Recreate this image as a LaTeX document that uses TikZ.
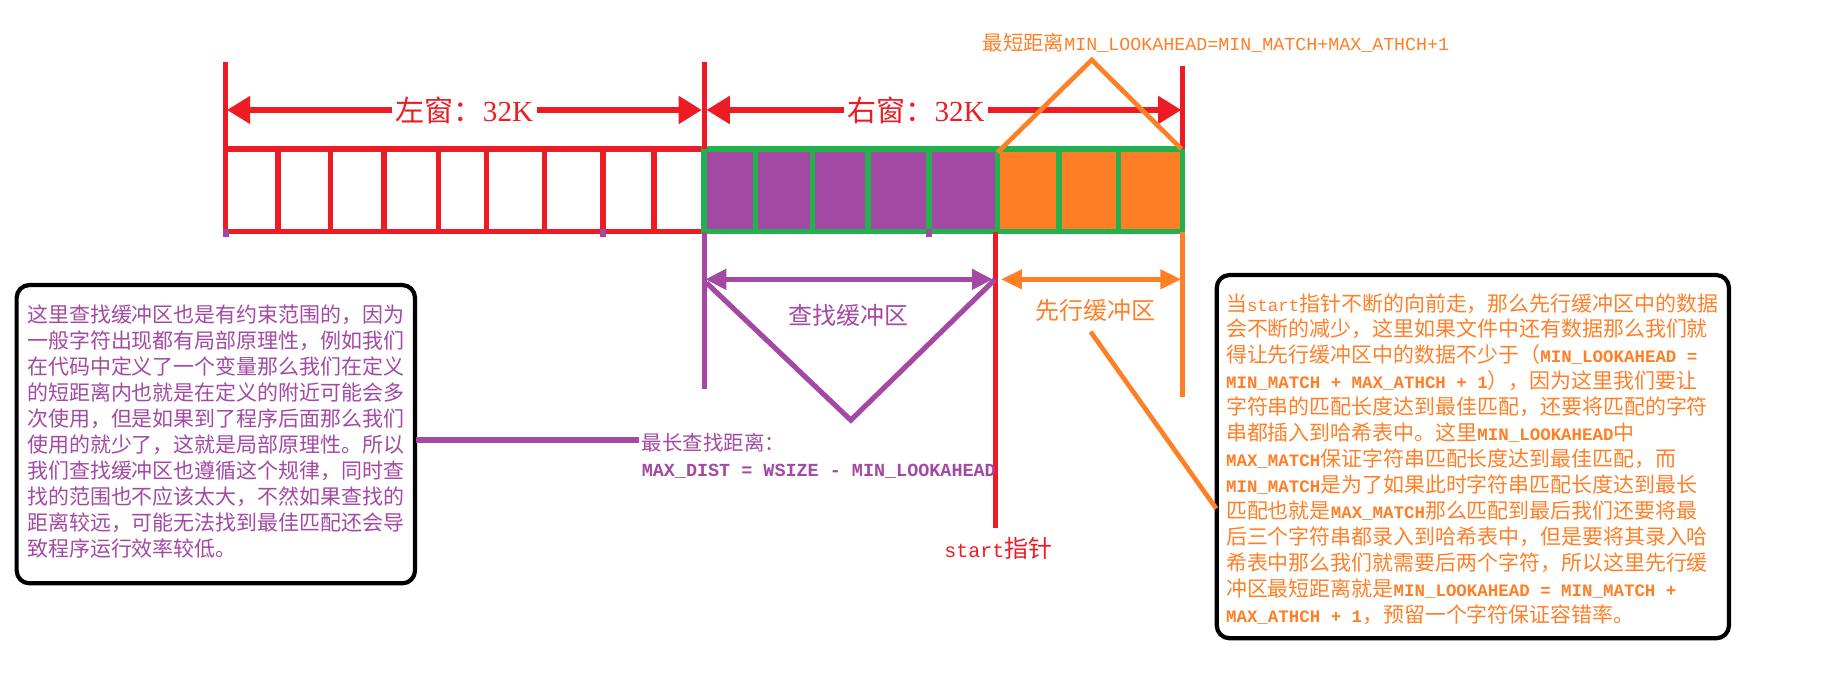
\documentclass[tikz,border=0pt]{standalone}
\usepackage{fontspec}
\setmainfont{Noto Sans CJK SC}
\newfontfamily\lmono[Scale=0.833]{Liberation Mono}
\newfontfamily\lmonow[Scale=0.9]{Liberation Mono}
\newfontfamily\lserif{Liberation Serif}
\newcommand\lm[1]{{\lmono #1}}
\newcommand\lw[1]{{\lmonow #1}}
\newcommand\lb[1]{{\lmono\bfseries #1}}
\usetikzlibrary{arrows.meta}
\definecolor{cred}{HTML}{ED1C24}
\definecolor{cgreen}{HTML}{22B14C}
\definecolor{cpurple}{HTML}{A349A4}
\definecolor{corange}{HTML}{FF7F27}
\tikzset{
  redline/.style={draw=cred, line width=2.3pt},
  greenline/.style={draw=cgreen, line width=2.4pt},
  purpleline/.style={draw=cpurple, line width=2.2pt},
  orangeline/.style={draw=corange, line width=2pt},
  redtick/.style={draw=cred, line width=2.2pt},
  redarr/.style={draw=cred, line width=2.8pt, {Triangle[length=10pt,width=11.5pt]}-{Triangle[length=10pt,width=11.5pt]}},
  purplearr/.style={draw=cpurple, line width=2.3pt, {Triangle[length=9pt,width=8.5pt]}-{Triangle[length=9pt,width=8.5pt]}},
  orangearr/.style={draw=corange, line width=2.1pt, {Triangle[length=9pt,width=8pt]}-{Triangle[length=9pt,width=8pt]}},
  notebox/.style={draw=black, line width=1.8pt, rounded corners=5.5pt},
  bigred/.style={text=cred, fill=white, inner sep=1.5pt, font=\fontsize{12.5pt}{14pt}\selectfont},
  boxtext/.style={anchor=north west, inner sep=0pt, align=left, font=\fontsize{9pt}{11.15pt}\selectfont},
  smalltext/.style={inner sep=0pt, font=\fontsize{8.75pt}{11.5pt}\selectfont},
  midtext/.style={inner sep=0pt, font=\fontsize{10.3pt}{12pt}\selectfont},
}
\begin{document}
\begin{tikzpicture}[x=0.5pt,y=-0.5pt]
\useasboundingbox (0,0) rectangle (1568,581);
\fill[white] (0,0) rectangle (1568,581);

% ---- buffer cells ----
\fill[cpurple] (605,128) rectangle (857,199);
\fill[corange] (857,128) rectangle (1016,199);
\draw[redline] (194,128) rectangle (605,199);
\foreach \x in {239,284,330,377,418,468,518,562}
  \draw[redline] (\x,128) -- (\x,199);
\draw[greenline] (605,128) rectangle (1016,199);
\foreach \x in {649,698,746,798,857,910,961}
  \draw[greenline] (\x,128) -- (\x,199);
% small marks below the cells
\foreach \x in {194,518,798}
  \draw[cpurple, line width=2.4pt] (\x,197) -- (\x,204);

% ---- window brackets ----
\coordinate (tL) at (194,53);
\coordinate (tM) at (605,53);
\coordinate (tR) at (1016,57);
\coordinate (bL) at (194,128);
\coordinate (bM) at (605,128);
\coordinate (bR) at (1016,128);
\draw[redtick] (tL) -- (bL);
\draw[redtick] (tM) -- (bM);
\draw[redtick] (tR) -- (bR);
\coordinate (aL) at (195,94.5);
\coordinate (aM1) at (603,94.5);
\coordinate (aM2) at (607,94.5);
\coordinate (aR) at (1015,94.5);
\draw[redarr] (aL) -- (aM1);
\draw[redarr] (aM2) -- (aR);
\node[bigred] (lwin) at (399,94.5) {左窗：{\lserif 32K}};
\node[bigred] (rwin) at (787,94.5) {右窗：{\lserif 32K}};

% ---- lookahead min distance ----
\coordinate (oA) at (857,131);
\coordinate (oT) at (938,51.5);
\coordinate (oB) at (1015,128);
\draw[orangeline, line join=miter] (oA) -- (oT) -- (oB);
\node[smalltext, anchor=west, text=corange] (mindist) at (844,37.2)
  {最短距离\lw{MIN\_LOOKAHEAD=MIN\_MATCH+MAX\_ATHCH+1}};

% ---- lower markers ----
\coordinate (pv1) at (605,199);
\coordinate (pv2) at (605,334);
\coordinate (sv1) at (855,199);
\coordinate (sv2) at (855,454);
\coordinate (ov1) at (1016,199);
\coordinate (ov2) at (1016,341);
\draw[purpleline] (pv1) -- (pv2);
\draw[draw=cred, line width=2.2pt] (sv1) -- (sv2);
\draw[orangeline] (ov1) -- (ov2);

\coordinate (pa1) at (606,240);
\coordinate (pa2) at (853,240);
\draw[purplearr] (pa1) -- (pa2);
\coordinate (ptL) at (607,243);
\coordinate (ptA) at (731,361);
\coordinate (ptR) at (855,240);
\draw[purpleline, line join=miter] (ptL) -- (ptA) -- (ptR);
\node[midtext, text=cpurple] (search) at (729,270.6) {查找缓冲区};

\coordinate (oa1) at (860,240);
\coordinate (oa2) at (1015,240);
\draw[orangearr] (oa1) -- (oa2);
\node[midtext, text=corange] (ahead) at (941,267) {先行缓冲区};

\node[midtext, text=cred, anchor=west] (start) at (811,471) {\lm{start}指针};

% ---- note boxes ----
\draw[notebox] (14.3,244.9) rectangle (356.6,501.2);
\node[boxtext, text=cpurple] (lefttext) at (23,261.6) {%
这里查找缓冲区也是有约束范围的，因为\\
一般字符出现都有局部原理性，例如我们\\
在代码中定义了一个变量那么我们在定义\\
的短距离内也就是在定义的附近可能会多\\
次使用，但是如果到了程序后面那么我们\\
使用的就少了，这就是局部原理性。所以\\
我们查找缓冲区也遵循这个规律，同时查\\
找的范围也不应该太大，不然如果查找的\\
距离较远，可能无法找到最佳匹配还会导\\
致程序运行效率较低。};

\draw[notebox] (1045.4,236.3) rectangle (1485.5,548.4);
\node[boxtext, text=corange] (righttext) at (1053,251.6) {%
当\lm{start}指针不断的向前走，那么先行缓冲区中的数据\\
会不断的减少，这里如果文件中还有数据那么我们就\\
得让先行缓冲区中的数据不少于（\lb{MIN\_LOOKAHEAD =}\\
\lb{MIN\_MATCH + MAX\_ATHCH + 1}），因为这里我们要让\\
字符串的匹配长度达到最佳匹配，还要将匹配的字符\\
串都插入到哈希表中。这里\lb{MIN\_LOOKAHEAD}中\\
\lb{MAX\_MATCH}保证字符串匹配长度达到最佳匹配，而\\
\lb{MIN\_MATCH}是为了如果此时字符串匹配长度达到最长\\
匹配也就是\lb{MAX\_MATCH}那么匹配到最后我们还要将最\\
后三个字符串都录入到哈希表中，但是要将其录入哈\\
希表中那么我们就需要后两个字符，所以这里先行缓\\
冲区最短距离就是\lb{MIN\_LOOKAHEAD = MIN\_MATCH +}\\
\lb{MAX\_ATHCH + 1}，预留一个字符保证容错率。};

% ---- max distance label ----
\coordinate (ph1) at (357,378);
\coordinate (ph2) at (549,378);
\draw[purpleline] (ph1) -- (ph2);
\node[boxtext, text=cpurple, font=\fontsize{8.8pt}{11.5pt}\selectfont] (maxdist) at (551,371.5) {%
最长查找距离：\\
{\lmonow\bfseries MAX\_DIST = WSIZE - MIN\_LOOKAHEAD}};

% ---- orange pointer to right note ----
\coordinate (od1) at (937,285);
\coordinate (od2) at (1045,437);
\draw[orangeline] (od1) -- (od2);
\end{tikzpicture}
\end{document}
